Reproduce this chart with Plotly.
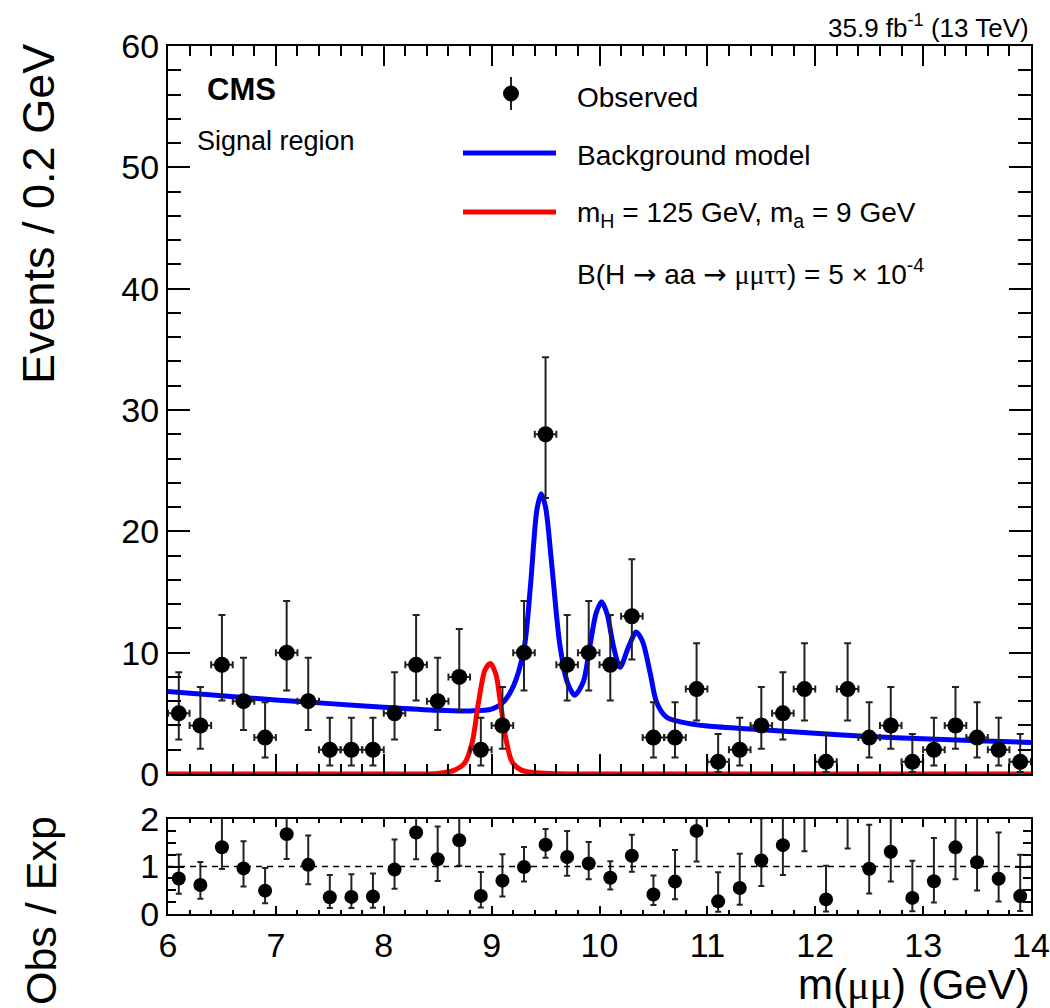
import math
import plotly.graph_objects as go

# ---------------- data ----------------
bin_centers = [6.1, 6.3, 6.5, 6.7, 6.9, 7.1, 7.3, 7.5, 7.7, 7.9,
               8.1, 8.3, 8.5, 8.7, 8.9, 9.1, 9.3, 9.5, 9.7, 9.9,
               10.1, 10.3, 10.5, 10.7, 10.9, 11.1, 11.3, 11.5, 11.7, 11.9,
               12.1, 12.3, 12.5, 12.7, 12.9, 13.1, 13.3, 13.5, 13.7, 13.9]
observed = [5, 4, 9, 6, 3, 10, 6, 2, 2, 2,
            5, 9, 6, 8, 2, 4, 10, 28, 9, 10,
            9, 13, 3, 3, 7, 1, 2, 4, 5, 7,
            1, 7, 3, 4, 1, 2, 4, 3, 2, 1]
# expected background per bin (bin-averaged model)
expected = [6.7, 6.55, 6.4, 6.25, 6.1, 5.95, 5.8, 5.65, 5.55, 5.45,
            5.35, 5.25, 5.2, 5.15, 5.25, 5.7, 10.1, 19.2, 7.5, 9.4,
            11.8, 10.6, 7.3, 4.4, 4.0, 3.75, 3.65, 3.55, 3.45, 3.35,
            3.25, 3.2, 3.15, 3.05, 2.95, 2.9, 2.85, 2.75, 2.7, 2.65]
bin_width = 0.2

# background model curve samples
bkg_x = [6.0, 6.5, 7.0, 7.5, 8.0, 8.5, 8.8, 9.0, 9.1, 9.2, 9.3, 9.36, 9.42, 9.46,
         9.5, 9.56, 9.63, 9.7, 9.77, 9.85, 9.91, 9.97, 10.02, 10.07, 10.13, 10.19,
         10.27, 10.34, 10.4, 10.47, 10.53, 10.62, 10.75, 11.0, 11.5, 12.0, 12.5,
         13.0, 13.5, 14.0]
bkg_y = [6.8, 6.45, 6.1, 5.8, 5.5, 5.25, 5.2, 5.35, 5.85, 7.2, 10.3, 15.5, 21.8, 23.1,
         22.0, 17.0, 10.8, 7.6, 6.5, 7.6, 10.5, 13.3, 14.2, 13.2, 10.5, 8.8,
         10.5, 11.7, 10.9, 8.3, 5.9, 4.7, 4.3, 3.95, 3.65, 3.35, 3.1,
         2.9, 2.75, 2.6]
# signal curve samples (m_a = 9 GeV)
sig_x = [6.0, 8.3, 8.5, 8.65, 8.75, 8.82, 8.88, 8.94, 8.99, 9.04, 9.08, 9.13,
         9.19, 9.28, 9.45, 9.7, 14.0]
sig_y = [0.0, 0.0, 0.05, 0.3, 0.9, 2.6, 6.0, 8.6, 9.1, 8.2, 6.0, 3.0,
         1.0, 0.3, 0.08, 0.0, 0.0]

x_ticks = [6, 7, 8, 9, 10, 11, 12, 13, 14]
y_ticks_main = [0, 10, 20, 30, 40, 50, 60]
y_ticks_ratio = [0, 1, 2]


# ---------------- Garwood Poisson intervals ----------------
def pois_cdf(k, mu):
    if k < 0:
        return 0.0
    term = math.exp(-mu)
    s = term
    for i in range(1, k + 1):
        term *= mu / i
        s += term
    return s


def garwood(n, q=0.158655):
    if n == 0:
        lo = 0.0
    else:
        a, b = 0.0, float(n)
        for _ in range(80):
            m = 0.5 * (a + b)
            if pois_cdf(n - 1, m) > 1 - q:
                a = m
            else:
                b = m
        lo = 0.5 * (a + b)
    a, b = float(n), n + 30.0
    for _ in range(80):
        m = 0.5 * (a + b)
        if pois_cdf(n, m) > q:
            a = m
        else:
            b = m
    hi = 0.5 * (a + b)
    return n - lo, hi - n


err_dn, err_up = [], []
for n in observed:
    d, u = garwood(n)
    err_dn.append(d)
    err_up.append(u)

ratio = [o / e for o, e in zip(observed, expected)]
ratio_up = [u / e for u, e in zip(err_up, expected)]
ratio_dn = [d / e for d, e in zip(err_dn, expected)]
ratio_msize = [14 if r <= 2.0 else 0 for r in ratio]

# ---------------- layout geometry ----------------
W, H = 1050, 1008
L, R, T, B = 168, 1031, 46, 914
PW, PH = R - L, B - T


def px(xp):
    return (xp - L) / PW


def py(yp):
    return (B - yp) / PH


FONT = "Liberation Sans"
ERRC = "#222222"

fig = go.Figure()

fig.add_trace(go.Scatter(x=bkg_x, y=bkg_y, mode="lines",
                         line=dict(color="#0000ff", width=5, shape="spline", smoothing=0.8),
                         xaxis="x", yaxis="y", hoverinfo="skip"))
fig.add_trace(go.Scatter(x=sig_x, y=sig_y, mode="lines",
                         line=dict(color="#ff0000", width=5, shape="spline", smoothing=0.8),
                         xaxis="x", yaxis="y", hoverinfo="skip"))
fig.add_trace(go.Scatter(
    x=bin_centers, y=observed, mode="markers",
    marker=dict(color="black", size=16, opacity=1),
    error_x=dict(type="constant", value=bin_width / 2, color=ERRC, thickness=2, width=3.5),
    error_y=dict(type="data", symmetric=False, array=err_up, arrayminus=err_dn,
                 color=ERRC, thickness=2, width=3.5),
    xaxis="x", yaxis="y"))

fig.add_trace(go.Scatter(
    x=bin_centers, y=ratio, mode="markers",
    marker=dict(color="black", size=ratio_msize, opacity=1, line=dict(width=0)),
    error_y=dict(type="data", symmetric=False, array=ratio_up, arrayminus=ratio_dn,
                 color=ERRC, thickness=2, width=3),
    xaxis="x2", yaxis="y2"))

axis_common = dict(showline=True, linewidth=2, linecolor="black", mirror="allticks",
                   ticks="inside", tickcolor="black", tickwidth=1.5, showgrid=False,
                   zeroline=False, automargin=False,
                   tickfont=dict(family=FONT, size=34, color="black"))

fig.update_layout(
    template="none",
    width=W, height=H,
    margin=dict(l=L, r=W - R, t=T, b=H - B, pad=0, autoexpand=False),
    paper_bgcolor="white", plot_bgcolor="white",
    showlegend=False,
    font=dict(family=FONT, color="black"),
    xaxis=dict(domain=[0, 1], anchor="y", range=[6, 14], tickvals=x_ticks,
               showticklabels=False, ticklen=20,
               minor=dict(dtick=0.2, ticklen=10, ticks="inside", tickcolor="black", tickwidth=1.5),
               **axis_common),
    yaxis=dict(domain=[(B - 774) / PH, 1], anchor="x", range=[0, 60], tickvals=y_ticks_main,
               ticklen=22,
               minor=dict(dtick=2, ticklen=13, ticks="inside", tickcolor="black", tickwidth=1.5),
               **axis_common),
    xaxis2=dict(domain=[0, 1], anchor="y2", range=[6, 14], tickvals=x_ticks,
                ticklen=8,
                minor=dict(dtick=0.2, ticklen=4, ticks="inside", tickcolor="black", tickwidth=1.5),
                **axis_common),
    yaxis2=dict(domain=[0, (B - 819) / PH], anchor="x2", range=[0, 2], tickvals=y_ticks_ratio,
                ticklen=16,
                minor=dict(dtick=0.25, ticklen=8, ticks="inside", tickcolor="black", tickwidth=1.5),
                **axis_common),
)

shapes = [
    dict(type="line", xref="x2", yref="y2", x0=6, x1=14, y0=1, y1=1,
         line=dict(color="black", width=1.5, dash="6px,5px")),
    # legend glyphs
    dict(type="line", xref="paper", yref="paper", x0=px(511), x1=px(511), y0=py(77), y1=py(110),
         line=dict(color=ERRC, width=2)),
    dict(type="circle", xref="paper", yref="paper", x0=px(503.5), x1=px(518.5),
         y0=py(86), y1=py(101), fillcolor="black", line=dict(color="black", width=1)),
    dict(type="line", xref="paper", yref="paper", x0=px(463), x1=px(556), y0=py(153), y1=py(153),
         line=dict(color="#0000ff", width=5)),
    dict(type="line", xref="paper", yref="paper", x0=px(463), x1=px(556), y0=py(212), y1=py(212),
         line=dict(color="#ff0000", width=5)),
]
fig.update_layout(shapes=shapes)

SERIF = "font-family:Liberation Serif"
ARROW = "<span style='font-family:DejaVu Sans'>→</span>"


def ann(text, xp, yp, size, xanchor="left", yanchor="middle", angle=0):
    fig.add_annotation(text=text, x=px(xp), y=py(yp), xref="paper", yref="paper",
                       xanchor=xanchor, yanchor=yanchor, showarrow=False, textangle=angle,
                       borderpad=0, font=dict(family=FONT, size=size, color="black"))


ann("<b>CMS</b>", 206, 89, 31)
ann("Signal region", 196, 141, 27)
ann("Observed", 576, 97, 28)
ann("Background model", 576, 156, 28)
ann("m<sub>H</sub> = 125 GeV, m<sub>a</sub> = 9 GeV", 576, 214, 28)
ann("B(H " + ARROW + " aa " + ARROW + " <span style='" + SERIF + "'>μμττ</span>) = 5 × 10<sup>-4</sup>",
    576, 272, 28)
ann("35.9 fb<sup>-1</sup> (13 TeV)", 1030, 27, 26, xanchor="right")
ann("m(<span style='" + SERIF + "'>μμ</span>) (GeV)", 1031, 985, 42, xanchor="right")
ann("Events / 0.2 GeV", 38, 214, 45, xanchor="center", angle=-90)
ann("Obs / Exp", 41, 911, 43, xanchor="center", angle=-90)

fig.write_html("out.html")
